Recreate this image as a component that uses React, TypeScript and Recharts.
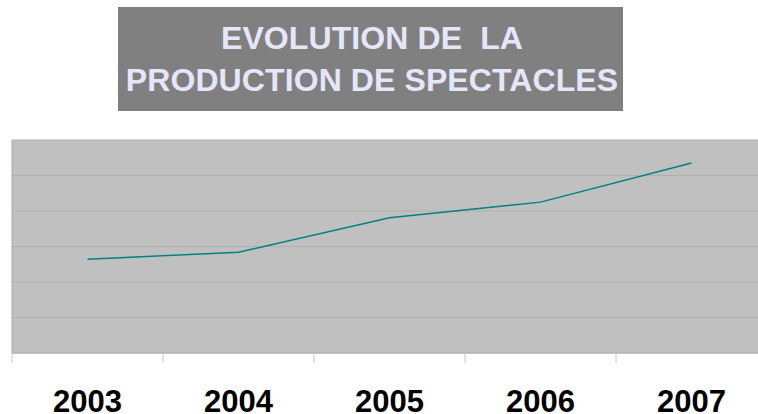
import React from 'react';
import { LineChart, Line, XAxis, YAxis, CartesianGrid } from 'recharts';

const years = ['2003', '2004', '2005', '2006', '2007'];
const productions = [264, 284, 381, 425, 535];
const yTicks = [0, 100, 200, 300, 400, 500, 600];
const boundaryTicks = [-0.5, 0.5, 1.5, 2.5, 3.5, 4.5];
const titleLines = ['EVOLUTION DE  LA', 'PRODUCTION DE SPECTACLES'];

const data = years.map((year, i) => ({ year, value: productions[i] }));

const FONT = '"Liberation Sans", Arial, Helvetica, sans-serif';

const YearTick = (props: any) => {
  const { x, y, payload } = props;
  return (
    <text
      x={x}
      y={y}
      dy={58}
      textAnchor="middle"
      fontFamily={FONT}
      fontWeight="bold"
      fontSize={31}
      fill="#000000"
    >
      {payload.value}
    </text>
  );
};

export default function App() {
  return (
    <div
      style={{
        position: 'absolute',
        left: 0,
        top: 0,
        width: 758,
        height: 414,
        overflow: 'hidden',
        background: '#ffffff',
      }}
    >
      <div
        style={{
          position: 'absolute',
          left: 118,
          top: 7,
          width: 505,
          height: 104,
          boxSizing: 'border-box',
          paddingTop: 10,
          paddingLeft: 3,
          background: '#808080',
          color: '#E6E6FA',
          fontFamily: FONT,
          fontWeight: 'bold',
          fontSize: 32,
          letterSpacing: 0.1,
          lineHeight: '42px',
          textAlign: 'center',
          whiteSpace: 'pre',
        }}
      >
        {titleLines.map((t) => (
          <div key={t}>{t}</div>
        ))}
      </div>
      <div style={{ position: 'absolute', left: 0, top: 0 }}>
        <LineChart
          width={770}
          height={414}
          data={data}
          margin={{ top: 140, left: 11, right: 3, bottom: 0 }}
        >
          <CartesianGrid
            vertical={false}
            fill="#C0C0C0"
            stroke="#B0B0B0"
            strokeWidth={1}
          />
          <XAxis
            type="number"
            padding={{ left: 75.5, right: 75.5 }}
            ticks={boundaryTicks}
            allowDataOverflow
            interval={0}
            tickFormatter={() => ''}
            tickSize={10}
            tickLine={{ stroke: '#C8C8C8' }}
            axisLine={{ stroke: '#B4B4B4' }}
            height={1}
          />
          <XAxis
            xAxisId="b"
            dataKey="year"
            type="category"
            padding={{ left: 75.5, right: 75.5 }}
            tickLine={false}
            axisLine={false}
            tickSize={0}
            tickMargin={0}
            height={60}
            interval={0}
            tick={<YearTick />}
          />
          <YAxis
            domain={[0, 600]}
            ticks={yTicks}
            width={1}
            interval={0}
            tickFormatter={() => ''}
            tickLine={false}
            axisLine={{ stroke: '#A8A8A8' }}
          />
          <Line
            xAxisId="b"
            type="linear"
            dataKey="value"
            stroke="#008080"
            strokeWidth={1.5}
            dot={false}
            isAnimationActive={false}
          />
        </LineChart>
      </div>
    </div>
  );
}
